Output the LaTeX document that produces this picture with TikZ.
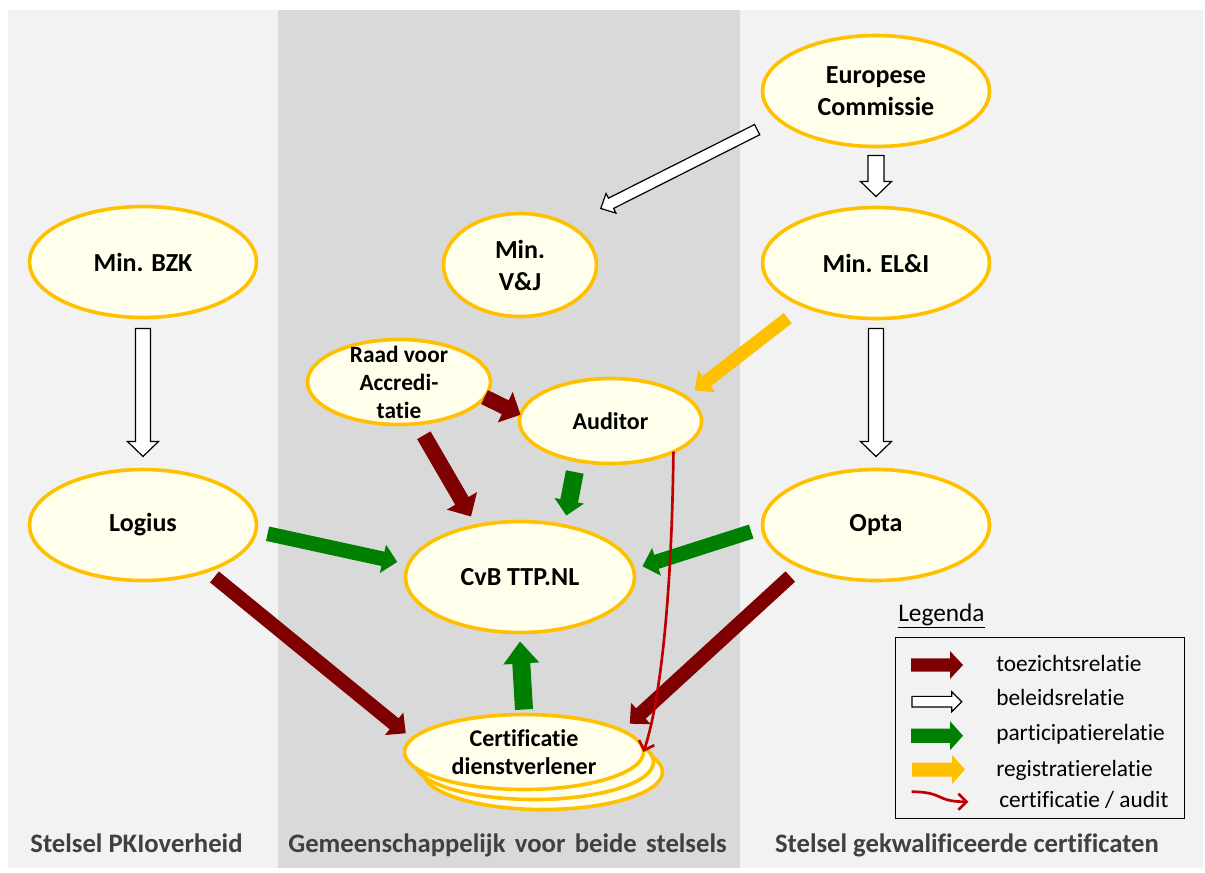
\documentclass[tikz,border=0pt]{standalone}
\usepackage{fontspec}
\setmainfont{Carlito}[Ligatures={NoCommon}]
\usepackage{tikz}
\usetikzlibrary{shapes.geometric,calc,arrows.meta}

\definecolor{panellight}{HTML}{F2F2F2}
\definecolor{paneldark}{HTML}{D9D9D9}
\definecolor{entgold}{HTML}{FFC000}
\definecolor{entfill}{HTML}{FFFFEB}
\definecolor{toezred}{HTML}{7F0000}
\definecolor{partgreen}{HTML}{008000}
\definecolor{auditred}{HTML}{C00000}
\definecolor{stelselgray}{HTML}{404040}

\tikzset{
  entline/.style={draw=entgold, line width=2.7pt, fill=entfill},
  ent/.style={ellipse, entline, inner sep=0pt, outer sep=0pt, align=center, font=\bfseries\fontsize{19.5}{24}\selectfont},
  toezicht/.style={fill=toezred},
  beleid/.style={fill=white, draw=black, line width=0.9pt},
  participatie/.style={fill=partgreen},
  registratie/.style={fill=entgold},
  audit/.style={draw=auditred, line width=2pt, -{Straight Barb[length=6pt,width=12pt]}},
  stelsel/.style={anchor=base, inner sep=0.75pt, text=stelselgray, font=\bfseries\fontsize{20}{24}\selectfont},
  legtext/.style={anchor=base west, inner sep=0.75pt, font=\fontsize{17.5}{21}\selectfont},
}

% block arrow: style, tail, tip, half shaft, half head, head length
\newcommand{\blockarrow}[6]{%
  \coordinate (ba-a) at (#2);
  \coordinate (ba-b) at (#3);
  \coordinate (ba-h) at ($(ba-b)!#6!(ba-a)$);
  \path[#1] ($(ba-a)!#4!90:(ba-b)$) -- ($(ba-h)!#4!90:(ba-b)$) -- ($(ba-h)!#5!90:(ba-b)$) -- (ba-b) -- ($(ba-h)!#5!-90:(ba-b)$) -- ($(ba-h)!#4!-90:(ba-b)$) -- ($(ba-a)!#4!-90:(ba-b)$) -- cycle;
}

\begin{document}
\begin{tikzpicture}[x=0.75pt,y=0.75pt,yscale=-1,xscale=1]
\useasboundingbox (0,0) rectangle (1205,872);

%Shape: Rectangle
\fill[panellight] (8,10) rectangle (278,868);
%Shape: Rectangle
\fill[paneldark] (278,10) rectangle (740,868);
%Shape: Rectangle
\fill[panellight] (740,10) rectangle (1203,868);

%Shape: Ellipse
\node[ent, minimum width=170.25pt, minimum height=83.25pt] (ec) at (876,91) {Europese\\Commissie};
%Shape: Ellipse
\node[ent, minimum width=114.75pt, minimum height=77.25pt] (vj) at (520,265) {Min.\\V\&J};
%Shape: Ellipse
\node[ent, minimum width=170.25pt, minimum height=83.25pt] (bzk) at (143,262) {Min. BZK};
%Shape: Ellipse
\node[ent, minimum width=170.25pt, minimum height=83.25pt] (eli) at (876,263) {Min. EL\&I};
%Shape: Ellipse
\node[ent, font=\bfseries\fontsize{17.5}{21}\selectfont, inner ysep=-9pt, minimum width=137.25pt, minimum height=63.75pt] (raad) at (399,382) {Raad voor\\Accredi-\\tatie};
%Shape: Ellipse
\node[ent, font=\bfseries\fontsize{18}{21}\selectfont, minimum width=136.5pt, minimum height=63.75pt] (aud) at (610.5,421) {Auditor};
%Shape: Ellipse
\node[ent, minimum width=170.25pt, minimum height=83.25pt] (logius) at (143,525) {Logius};
%Shape: Ellipse
\node[ent, minimum width=170.25pt, minimum height=83.25pt] (opta) at (876,525) {Opta};
%Shape: Ellipse
\node[ent, minimum width=171.75pt, minimum height=83.25pt] (cvb) at (520,577) {CvB TTP.NL};
%Shape: Ellipse (stack)
\draw[entline] (543,772) ellipse (119.5 and 37.5);
\draw[entline] (534,762) ellipse (119.5 and 37.5);
\node[ent, font=\bfseries\fontsize{18}{21}\selectfont, minimum width=179.25pt, minimum height=56.25pt] (cert) at (524,752) {Certificatie\\dienstverlener};

%Block Arrows: beleidsrelatie
\blockarrow{beleid}{$(ec.198)!-19.2pt!(ec.center)$}{$(vj.35)!-25.4pt!(vj.center)$}{4.3pt}{8.25pt}{8.6pt}
\blockarrow{beleid}{$(ec.-90)!-6.75pt!(ec.center)$}{$(eli.90)!-8.25pt!(eli.center)$}{6pt}{11.6pt}{11.25pt}
\blockarrow{beleid}{$(bzk.-90)!-8.25pt!(bzk.center)$}{$(logius.90)!-9.75pt!(logius.center)$}{5.6pt}{11.6pt}{11.25pt}
\blockarrow{beleid}{$(eli.-90)!-7.5pt!(eli.center)$}{$(opta.90)!-9.75pt!(opta.center)$}{5.6pt}{11.6pt}{11.25pt}
%Block Arrows: registratierelatie
\blockarrow{registratie}{$(eli.212)!-16.2pt!(eli.center)$}{$(aud.20)!-10pt!(aud.center)$}{4.9pt}{10.5pt}{11.25pt}
%Block Arrows: toezichtsrelatie
\blockarrow{toezicht}{raad.-10.5}{aud.176}{5.8pt}{12.75pt}{12.75pt}
\blockarrow{toezicht}{$(raad.-65)!-9.7pt!(raad.center)$}{$(cvb.129)!-8.6pt!(cvb.center)$}{5.8pt}{13.1pt}{13.5pt}
\blockarrow{toezicht}{$(logius.-36)!-7.5pt!(logius.center)$}{$(cert.171)!-8.8pt!(cert.center)$}{5.3pt}{10.9pt}{11.25pt}
\blockarrow{toezicht}{$(opta.211)!-12.3pt!(opta.center)$}{$(cert.15)!-11.6pt!(cert.center)$}{5.3pt}{10.9pt}{11.25pt}
%Block Arrows: participatierelatie
\blockarrow{participatie}{$(aud.-125)!-9.7pt!(aud.center)$}{$(cvb.53)!-8.8pt!(cvb.center)$}{6.75pt}{11.25pt}{11.25pt}
\blockarrow{participatie}{$(logius.-4)!-9.2pt!(logius.center)$}{$(cvb.173)!-8.9pt!(cvb.center)$}{5.5pt}{10.9pt}{11pt}
\blockarrow{participatie}{$(opta.183)!-9pt!(opta.center)$}{$(cvb.5)!-7.4pt!(cvb.center)$}{5.5pt}{10.9pt}{11pt}
\blockarrow{participatie}{$(cert.90)!-3.75pt!(cert.center)$}{$(cvb.-90)!-6.75pt!(cvb.center)$}{6.75pt}{13.5pt}{16.5pt}

%Curve Lines: certificatie / audit
\draw[audit] (aud.-26) .. controls +(-2,167) and +(14,-42) .. (cert.east);

% Legend
\node[draw=black, line width=0.75pt, minimum width=216.75pt, minimum height=135.75pt, inner sep=0pt] (legbox) at (1039.5,727.5) {};
% Text Node
\draw (898,621) node [anchor=base west][inner sep=0pt] (legtitle) {\fontsize{19}{23}\selectfont\underline{Legenda}};
\blockarrow{toezicht}{911,665}{963,665}{5pt}{10.5pt}{9.75pt}
\blockarrow{beleid}{912,701.7}{961.7,701.7}{4pt}{7.5pt}{7.5pt}
\blockarrow{participatie}{911,735.7}{963,735.7}{5.4pt}{10.9pt}{9.75pt}
\blockarrow{registratie}{912,769.5}{965,769.5}{5.25pt}{10.9pt}{9.75pt}
\draw[audit] (911.7,791.7) .. controls (945,792) and (935,801.7) .. (968.3,801.7);
% Text Node
\draw (995,671.7) node [legtext] (lgtoez) {toezichtsrelatie};
% Text Node
\draw (995,705.7) node [legtext] (lgbel) {beleidsrelatie};
% Text Node
\draw (995,740.7) node [legtext] (lgpart) {participatierelatie};
% Text Node
\draw (995,776) node [legtext] (lgreg) {registratierelatie};
% Text Node
\draw (998,807) node [legtext] (lgaud) {certificatie / audit};

% Text Node
\draw (136.5,852) node [stelsel] (stpki) {Stelsel PKIoverheid};
% Text Node
\draw (507.5,852) node [stelsel] (stgem) {Gemeenschappelijk\hspace{2.5pt} voor\hspace{2.5pt} beide\hspace{2.5pt} stelsels};
% Text Node
\draw (967,852) node [stelsel] (stgkw) {Stelsel gekwalificeerde certificaten};

\end{tikzpicture}
\end{document}
